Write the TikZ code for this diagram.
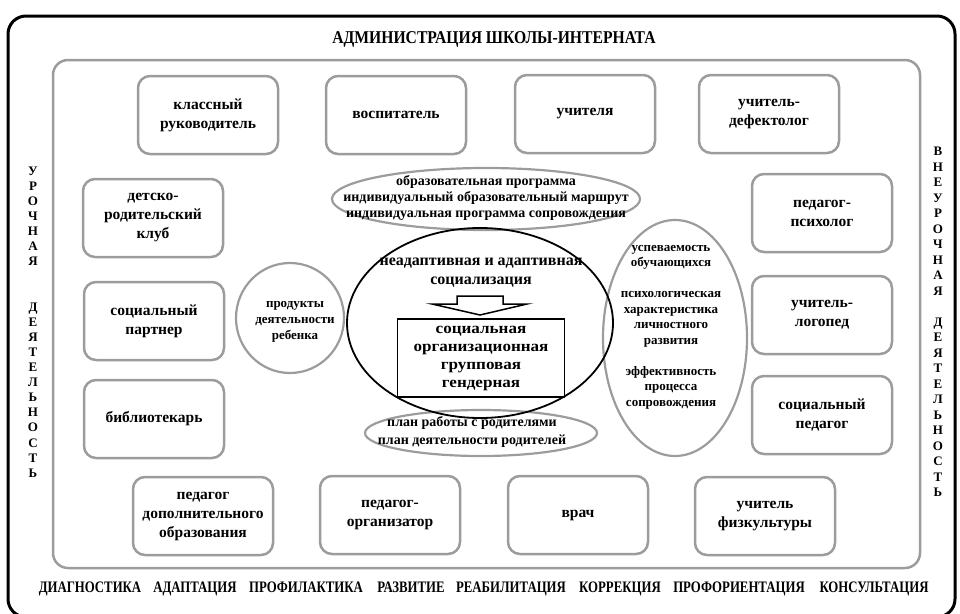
\documentclass[tikz,border=0pt]{standalone}
\usepackage{fontspec}
\usepackage{graphicx}
\setmainfont{Liberation Serif}
\usetikzlibrary{shapes.geometric}
\definecolor{boxgray}{HTML}{9C9C9C}
\newcommand{\nar}[1]{\scalebox{0.8}[1]{#1}}
\begin{document}
\begin{tikzpicture}[x=1pt,y=-1pt,
  role/.style={draw=boxgray, line width=2.5pt, rounded corners=12pt, minimum width=140pt, minimum height=78pt, inner sep=2pt, align=center, font=\fontsize{15.5}{19}\selectfont\bfseries},
  oval/.style={draw=boxgray, line width=2.2pt, ellipse, inner sep=0pt},
  plain/.style={inner sep=0pt, align=center, font=\fontsize{13}{15.5}\selectfont\bfseries},
  word/.style={inner sep=0pt, anchor=base, font=\fontsize{16}{18}\selectfont\bfseries}
]
\useasboundingbox (0,0) rectangle (960,613);
% outer frame
\draw[line width=3pt, rounded corners=18pt] (8,16) rectangle (955,617);
\node[inner sep=0pt, anchor=base, font=\fontsize{18}{20}\selectfont\bfseries] (admin) at (494,43) {\scalebox{0.87}[1]{АДМИНИСТРАЦИЯ ШКОЛЫ-ИНТЕРНАТА}};
% inner frame
\draw[boxgray, line width=2.5pt, rounded corners=15pt] (53,60) rectangle (920,568);
% side texts
\node[plain, font=\fontsize{13}{15.1}\selectfont\bfseries] (left) at (33,322) {У\\Р\\О\\Ч\\Н\\А\\Я\\[30.2pt]Д\\Е\\Я\\Т\\Е\\Л\\Ь\\Н\\О\\С\\Т\\Ь};
\node[plain, font=\fontsize{13}{15.5}\selectfont\bfseries] (right) at (938,322) {В\\Н\\Е\\У\\Р\\О\\Ч\\Н\\А\\Я\\[15.5pt]Д\\Е\\Я\\Т\\Е\\Л\\Ь\\Н\\О\\С\\Т\\Ь};
% top row
\node[role] (r1) at (208,115) {классный\\руководитель};
\node[role] (r2) at (396,115) {воспитатель};
\node[role] (r3) at (585,114) {учителя};
\node[role] (r4) at (769,114) {учитель-\\дефектолог};
% left column
\node[role] (l1) at (153,218) {детско-\\родительский\\клуб};
\node[role] (l2) at (154,321) {социальный\\партнер};
\node[role] (l3) at (154,419) {библиотекарь};
% right column
\node[role] (p1) at (822,213) {педагог-\\психолог};
\node[role] (p2) at (822,315) {учитель-\\логопед};
\node[role] (p3) at (822,415) {социальный\\педагог};
% bottom row
\node[role] (b1) at (203,516) {педагог\\дополнительного\\образования};
\node[role] (b2) at (390,515) {педагог-\\организатор};
\node[role] (b3) at (578,515) {врач};
\node[role] (b4) at (765,516) {учитель\\физкультуры};
% ellipses
\node[oval, minimum width=308pt, minimum height=62pt] (top) at (486,199) {};
\node[plain, font=\fontsize{14}{16}\selectfont\bfseries] (toptext) at (486,198) {образовательная программа\\индивидуальный образовательный маршрут\\индивидуальная программа сопровождения};
\node[oval, minimum width=108pt, minimum height=110pt] (prod) at (290,318) {};
\node[plain, font=\fontsize{13}{16}\selectfont\bfseries] (prodtext) at (295,322) {продукты\\деятельности\\ребенка};
\node[oval, minimum width=144pt, minimum height=236pt] (res) at (675,338) {};
\node[plain] (restext) at (671,327) {успеваемость\\обучающихся\\[15.5pt]психологическая\\характеристика\\личностного\\развития\\[15.5pt]эффективность\\процесса\\сопровождения};
\node[oval, minimum width=232pt, minimum height=46pt] (plan) at (481,433) {};
\node[plain, font=\fontsize{14}{18}\selectfont\bfseries] (plantext) at (472,432) {план работы с родителями\\план деятельности родителей};
% central ellipse
\node[draw, ellipse, line width=1.8pt, minimum width=266pt, minimum height=190pt, inner sep=0pt] (core) at (480,323) {};
\node[plain, font=\fontsize{16}{19}\selectfont\bfseries] (soc) at (481,273) {неадаптивная и адаптивная\\социализация};
\node[draw, line width=1.8pt, minimum width=167pt, minimum height=78pt, inner sep=0pt] (kinds) at (481,358) {};
\node[plain, font=\fontsize{15.5}{18}\selectfont\bfseries] (kindstext) at (481,357) {\scalebox{1.1}[1]{\begin{tabular}{@{}c@{}}социальная\\организационная\\групповая\\гендерная\end{tabular}}};
\coordinate (tip) at (480,315);
\draw[line width=1.5pt, fill=white, line join=miter] (457,296) -- (503,296) -- (503,304) -- (527,304) -- (tip) -- (432,304) -- (457,304) -- cycle;
% bottom words
\node[word] (w1) at (90,592) {\nar{ДИАГНОСТИКА}};
\node[word] (w2) at (195,592) {\nar{АДАПТАЦИЯ}};
\node[word] (w3) at (306,592) {\nar{ПРОФИЛАКТИКА}};
\node[word] (w4) at (411,592) {\nar{РАЗВИТИЕ}};
\node[word] (w5) at (511,592) {\nar{РЕАБИЛИТАЦИЯ}};
\node[word] (w6) at (620,592) {\nar{КОРРЕКЦИЯ}};
\node[word] (w7) at (739,592) {\nar{ПРОФОРИЕНТАЦИЯ}};
\node[word] (w8) at (874,592) {\nar{КОНСУЛЬТАЦИЯ}};
\end{tikzpicture}
\end{document}
